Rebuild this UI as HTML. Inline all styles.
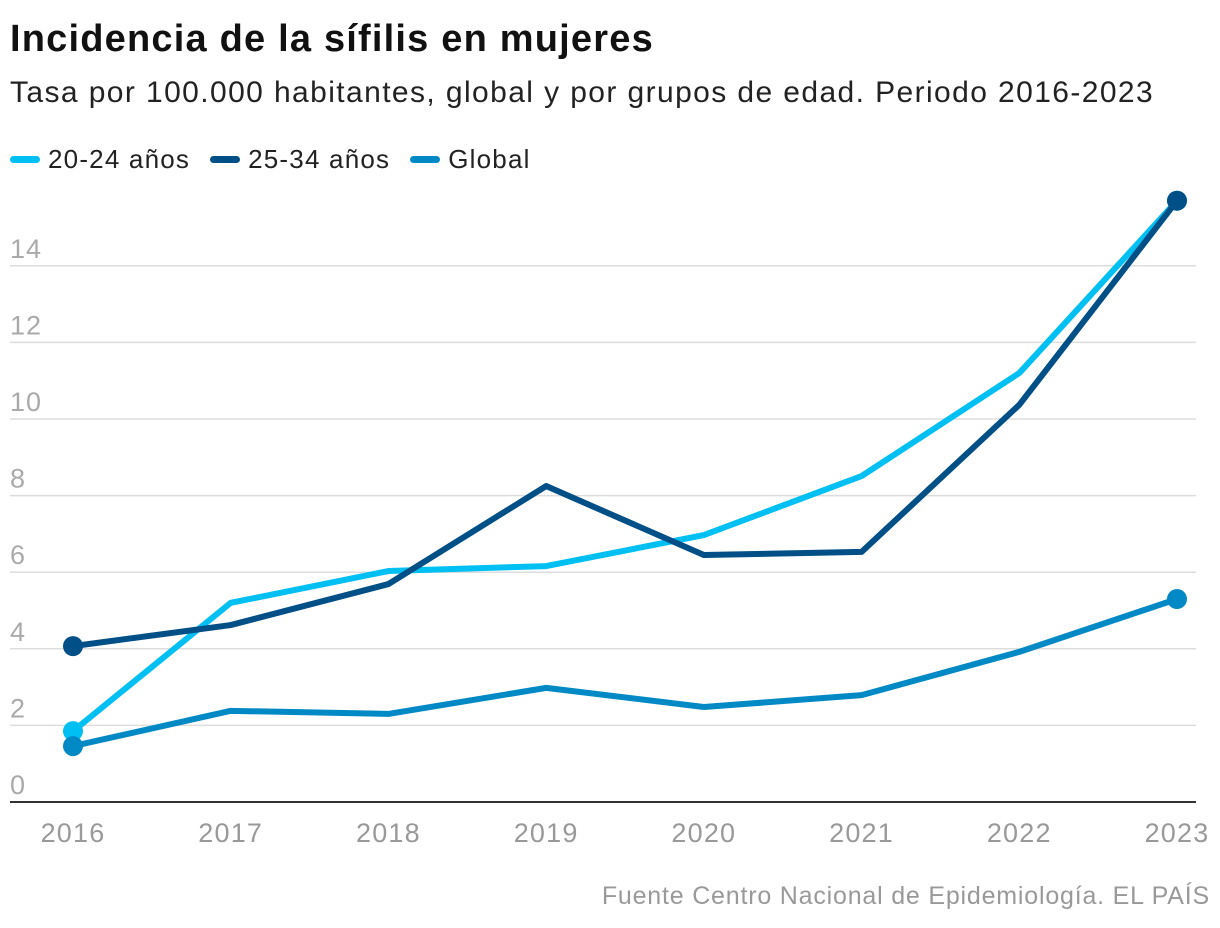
<!DOCTYPE html>
<html><head><meta charset="utf-8">
<style>
body{margin:0;background:#fff;font-family:"Liberation Sans",sans-serif;}
#wrap{position:relative;width:1220px;height:928px;overflow:hidden;}
h1{position:absolute;left:10px;top:18px;margin:0;font-size:38px;font-weight:bold;color:#111;letter-spacing:1.2px}
.sub{position:absolute;left:10px;top:76px;font-size:30px;color:#222;letter-spacing:1.4px}
.legend{position:absolute;left:10px;top:144px;font-size:26px;color:#222;display:flex;gap:20px;letter-spacing:1.2px}
.legend span{display:flex;align-items:center}
.legend i{display:inline-block;width:30px;height:7px;border-radius:4px;margin-right:8px}
.src{position:absolute;right:10px;top:882px;font-size:25px;color:#999;letter-spacing:0.8px}
</style></head><body>
<div id="wrap">
<h1>Incidencia de la sífilis en mujeres</h1>
<div class="sub">Tasa por 100.000 habitantes, global y por grupos de edad. Periodo 2016-2023</div>
<div class="legend">
<span><i style="background:#00c0f3"></i>20-24 años</span>
<span><i style="background:#004f87"></i>25-34 años</span>
<span><i style="background:#0089c4"></i>Global</span>
</div>
<svg id="svg" width="1220" height="928" style="position:absolute;left:0;top:0"></svg>
<div class="src">Fuente Centro Nacional de Epidemiología. EL PAÍS</div>
</div>
<script>
const years=[2016,2017,2018,2019,2020,2021,2022,2023];
const yTicks=[0,2,4,6,8,10,12,14];
const s2024=[1.85,5.2,6.03,6.16,6.97,8.51,11.2,15.7];
const s2534=[4.07,4.62,5.69,8.25,6.45,6.53,10.37,15.7];
const sGlobal=[1.46,2.38,2.3,2.98,2.48,2.79,3.92,5.3];
const NS="http://www.w3.org/2000/svg";
const svg=document.getElementById('svg');
const x=i=>73+i*(1177-73)/(years.length-1);
const y=v=>802-v*38.3;
function mk(t,a){const e=document.createElementNS(NS,t);for(const k in a)e.setAttribute(k,a[k]);svg.appendChild(e);return e;}
yTicks.forEach(v=>{
 if(v>0){const l=mk('line',{x1:10,x2:1196,y1:y(v),y2:y(v),stroke:'#ddd','stroke-width':1.5});
 
 }
 const t=mk('text',{x:10,y:y(v)-8,'font-size':27,fill:'#aaa','font-family':'Liberation Sans','letter-spacing':1});
 t.textContent=v;
 
 
});
const ax=mk('line',{x1:10,x2:1196,y1:802,y2:802,stroke:'#333','stroke-width':2});


years.forEach((yr,i)=>{
 const t=mk('text',{x:x(i),y:842,'font-size':27,fill:'#999','text-anchor':'middle','font-family':'Liberation Sans','letter-spacing':1.2});
 t.textContent=yr;
 
 
});
function series(d,c,name,dots){
 const p=mk('polyline',{points:d.map((v,i)=>x(i)+','+y(v)).join(' '),fill:'none',stroke:c,'stroke-width':6,'stroke-linejoin':'round'});
 
 
 dots.forEach(i=>{const m=mk('circle',{cx:x(i),cy:y(d[i]),r:10,fill:c});
 
 });
}
series(s2024,'#00c0f3','20-24',[0,7]);
series(sGlobal,'#0089c4','global',[0,7]);
series(s2534,'#004f87','25-34',[0,7]);
</script>
</body></html>
